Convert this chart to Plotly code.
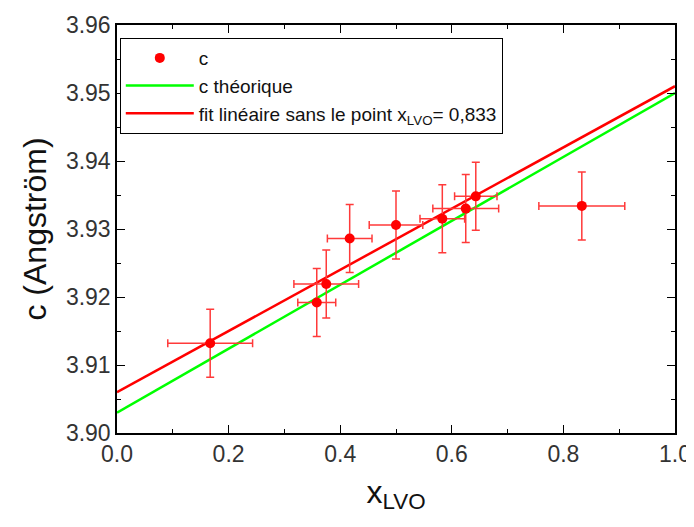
import plotly.graph_objects as go

# Measured data
x_lvo = [0.167, 0.358, 0.375, 0.417, 0.500, 0.583, 0.625, 0.643, 0.833]
c_val = [3.9132, 3.9192, 3.9219, 3.9286, 3.9306, 3.9315, 3.9330, 3.9348, 3.9334]
c_err = [0.005, 0.005, 0.005, 0.005, 0.005, 0.005, 0.005, 0.005, 0.005]
x_err = [0.076, 0.034, 0.058, 0.040, 0.048, 0.040, 0.059, 0.038, 0.077]

# Lines (endpoints at x = 0 and x = 1)
x_line = [0.0, 1.0]
c_theo = [3.903, 3.950]
c_fit = [3.906, 3.951]

x_ticks = [0.0, 0.2, 0.4, 0.6, 0.8, 1.0]
y_ticks = [3.90, 3.91, 3.92, 3.93, 3.94, 3.95, 3.96]

FONT = "Arial, Liberation Sans, sans-serif"

fig = go.Figure()
fig.add_trace(go.Scatter(
    x=x_line, y=c_theo, mode="lines", name="c théorique",
    line=dict(color="#00ff00", width=2.5), legendrank=2))
fig.add_trace(go.Scatter(
    x=x_line, y=c_fit, mode="lines",
    name="fit linéaire sans le point x<sub>LVO</sub>= 0,833",
    line=dict(color="#ff0000", width=2.5), legendrank=3))
fig.add_trace(go.Scatter(
    x=x_lvo, y=c_val, mode="markers", name="c",
    marker=dict(color="#ff0000", size=10),
    error_y=dict(type="data", array=c_err, color="#ff3a3a", thickness=1.5, width=4),
    error_x=dict(type="data", array=x_err, color="#ff3a3a", thickness=1.5, width=4),
    legendrank=1))

axis_common = dict(
    showline=True, linecolor="black", linewidth=1.5, mirror="ticks",
    ticks="inside", ticklen=8, tickwidth=1.2, tickcolor="black",
    showgrid=False, zeroline=False, automargin=False,
    tickfont=dict(family=FONT, size=23, color="#333"),
)

fig.update_layout(
    width=694, height=527,
    margin=dict(l=109, r=27, t=17, b=102),
    plot_bgcolor="white", paper_bgcolor="white",
    font=dict(family=FONT),
    showlegend=True,
    legend=dict(
        x=0.005, y=0.968, xanchor="left", yanchor="top",
        bordercolor="black", borderwidth=1, bgcolor="white",
        font=dict(family=FONT, size=19, color="#111"),
        traceorder="normal", tracegroupgap=0, itemwidth=68,
    ),
    xaxis=dict(
        range=[0, 1], tickvals=x_ticks, tickformat=".1f",
        minor=dict(dtick=0.1, ticks="inside", ticklen=4, tickcolor="black", showgrid=False),
        title=dict(text="x<sub>LVO</sub>", font=dict(family=FONT, size=32, color="#111"), standoff=14),
        **axis_common),
    yaxis=dict(
        range=[3.90, 3.96], tickvals=y_ticks, tickformat=".2f",
        minor=dict(dtick=0.005, ticks="inside", ticklen=4, tickcolor="black", showgrid=False),
        title=dict(text="c (Angström)", font=dict(family=FONT, size=32, color="#111"), standoff=10),
        **axis_common),
)

fig.write_html("out.html")
